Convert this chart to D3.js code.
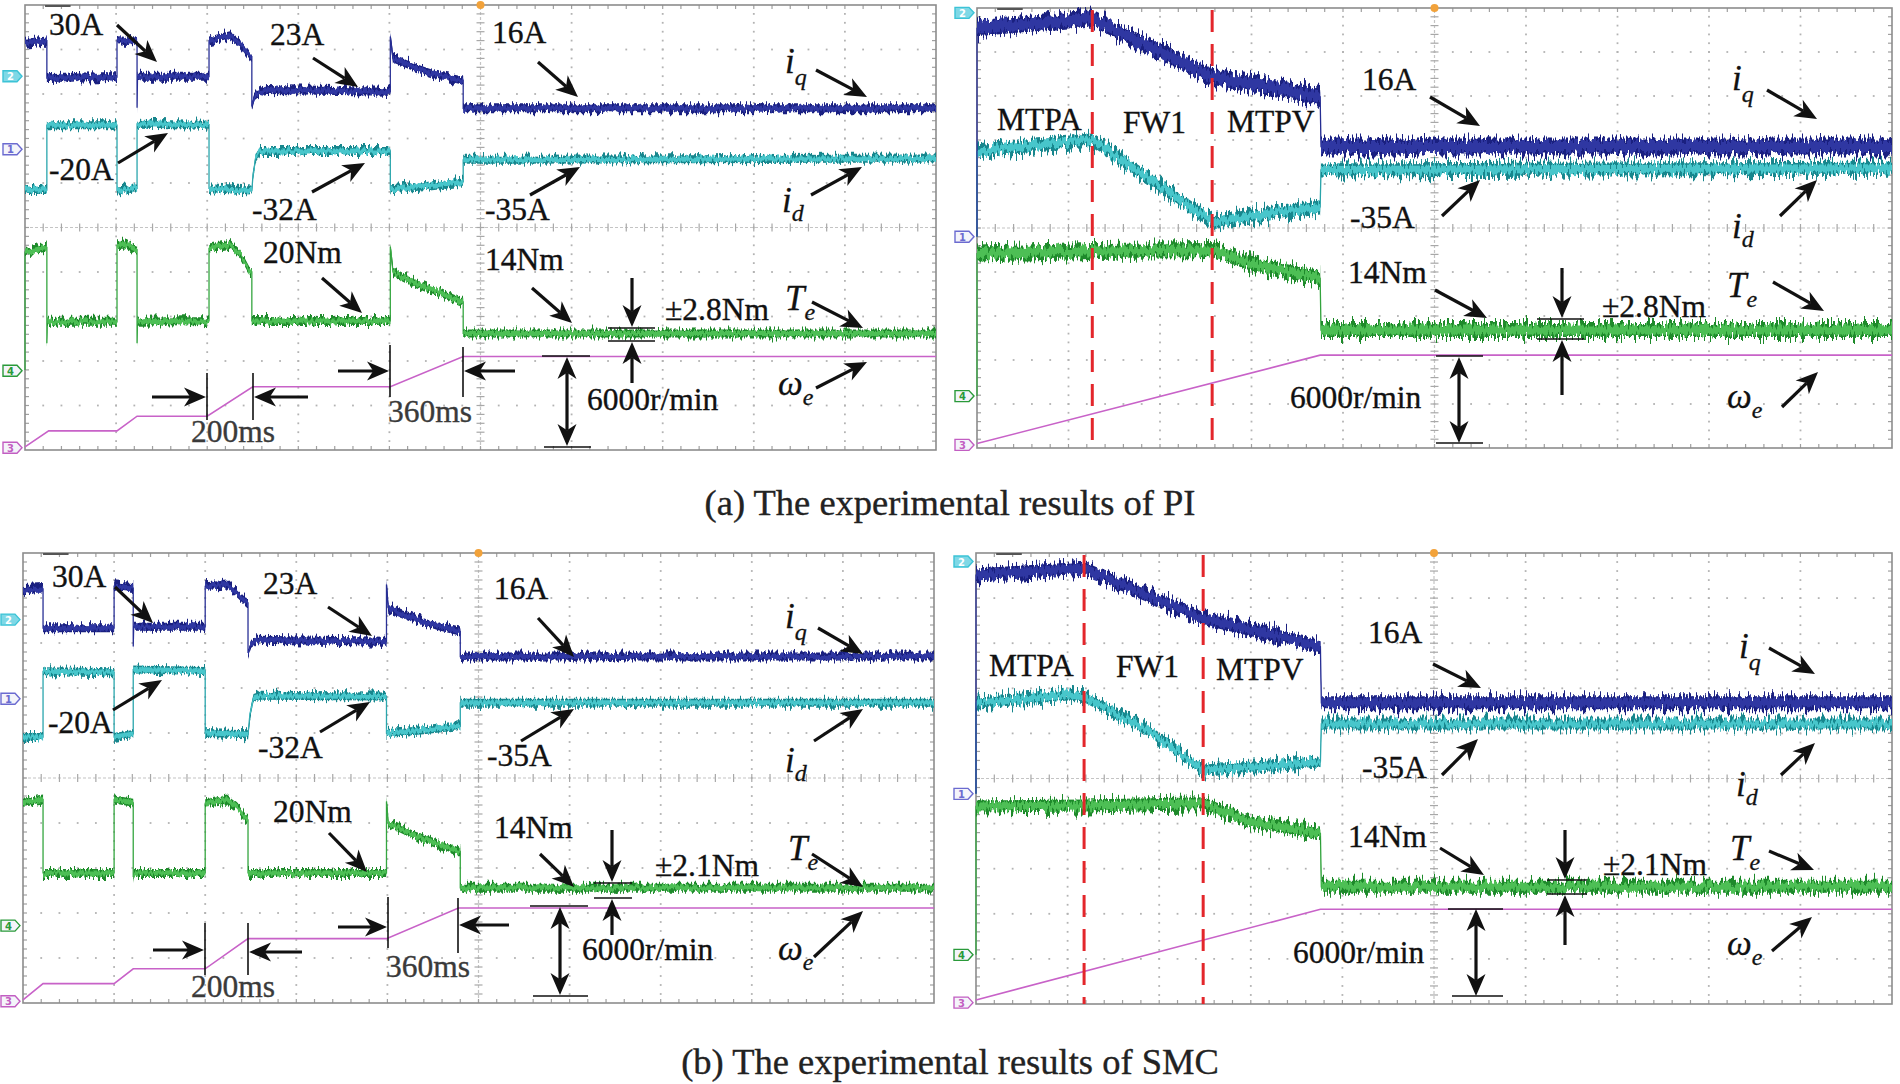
<!DOCTYPE html>
<html><head><meta charset="utf-8">
<script src="https://cdn.jsdelivr.net/npm/d3@7"></script>
<style>
html,body{margin:0;padding:0;background:#fff;}
svg{display:block;}
</style></head><body>
<svg id="chart" width="1900" height="1084"></svg>
<script>
// ---------- DATA (time and amplitude in oscilloscope divisions: t 0..10, value 0..10 from bottom) ----------
// (a) PI, speed steps
const piSpeedIq = [[0,9.15],[0.24,9.2],[0.24,8.36],[1.01,8.38],[1.01,9.21],[1.23,9.18],[1.23,7.69],[1.235,8.39],[2.02,8.39],[2.02,9.2],[2.25,9.32],[2.36,9.14],[2.47,8.84],[2.49,8.84],[2.49,7.72],[2.52,7.95],[2.58,8.05],[2.65,8.09],[4.01,8.05],[4.01,9.29],[4.04,8.8],[4.3,8.58],[4.48,8.45],[4.79,8.31],[4.81,8.31],[4.81,7.68],[10,7.68]];
const piSpeedId = [[0,5.84],[0.24,5.84],[0.24,7.30],[1.01,7.30],[1.01,5.83],[1.23,5.88],[1.23,7.33],[2.02,7.31],[2.02,5.88],[2.49,5.83],[2.5,6.1],[2.53,6.55],[2.58,6.72],[4.01,6.72],[4.01,5.86],[4.4,5.93],[4.79,6.03],[4.81,6.03],[4.81,6.52],[10,6.55]];
const piSpeedTe = [[0,1.8],[0,4.45],[0.24,4.55],[0.24,2.4],[0.245,2.88],[1.01,2.88],[1.01,4.6],[1.1,4.62],[1.23,4.5],[1.23,2.4],[1.235,2.88],[2.02,2.9],[2.02,4.53],[2.25,4.61],[2.36,4.42],[2.47,4.0],[2.49,4.0],[2.49,2.9],[4.01,2.9],[4.01,4.57],[4.04,4.0],[4.3,3.74],[4.48,3.6],[4.79,3.33],[4.81,3.33],[4.81,2.62],[10,2.62]];
const piSpeedWe = [[0,0.07],[0.26,0.43],[1.01,0.43],[1.23,0.76],[2.0,0.76],[2.5,1.42],[4.01,1.42],[4.81,2.10],[10,2.10]];
// (a) PI, field weakening
const piFluxIq = [[0,4.8],[0,9.54],[0.6,9.65],[1.26,9.76],[1.9,9.1],[2.57,8.44],[3.2,8.2],[3.75,7.98],[3.76,6.85],[10,6.85]];
const piFluxId = [[0,4.8],[0,6.73],[0.6,6.88],[1.26,7.0],[1.9,6.09],[2.57,5.14],[3.2,5.33],[3.75,5.48],[3.76,6.32],[10,6.36]];
const piFluxTe = [[0,1.18],[0,4.42],[1.26,4.48],[2.57,4.5],[2.98,4.2],[3.75,3.86],[3.76,2.68],[10,2.68]];
const piFluxWe = [[0,0.1],[3.75,2.11],[10,2.11]];
const piFluxModes = [1.26, 2.57];
// (b) SMC, speed steps
const smcSpeedIq = [[0,9.18],[0.22,9.2],[0.22,8.33],[1.0,8.33],[1.0,9.26],[1.21,9.22],[1.21,7.92],[1.215,8.36],[2.0,8.36],[2.0,9.26],[2.24,9.3],[2.35,9.1],[2.46,8.89],[2.47,8.89],[2.47,7.78],[2.5,7.95],[2.57,8.07],[3.99,8.03],[3.99,9.3],[4.01,8.78],[4.3,8.55],[4.55,8.38],[4.78,8.26],[4.80,8.26],[4.80,7.70],[10,7.70]];
const smcSpeedId = [[0,5.91],[0.22,5.91],[0.22,7.37],[1.0,7.35],[1.0,5.91],[1.21,5.98],[1.21,7.41],[2.0,7.38],[2.0,6.0],[2.47,5.97],[2.49,6.4],[2.53,6.78],[2.6,6.83],[3.99,6.81],[3.99,6.0],[4.4,6.06],[4.78,6.15],[4.80,6.15],[4.80,6.67],[10,6.67]];
const smcSpeedTe = [[0,4.45],[0.22,4.52],[0.22,2.89],[1.0,2.89],[1.0,4.52],[1.21,4.45],[1.21,2.8],[1.215,2.89],[2.0,2.89],[2.0,4.44],[2.24,4.52],[2.35,4.35],[2.46,4.07],[2.47,4.07],[2.47,2.89],[3.99,2.89],[3.99,4.48],[4.01,4.0],[4.3,3.72],[4.55,3.55],[4.78,3.37],[4.80,3.37],[4.80,2.56],[10,2.56]];
const smcSpeedWe = [[0,0.07],[0.22,0.43],[1.0,0.43],[1.21,0.76],[2.0,0.76],[2.47,1.43],[3.99,1.43],[4.78,2.11],[10,2.11]];
// (b) SMC, field weakening
const smcFluxIq = [[0,4.66],[0,9.51],[0.6,9.59],[1.18,9.66],[1.9,9.03],[2.48,8.55],[3.17,8.22],[3.76,7.92],[3.77,6.68],[10,6.68]];
const smcFluxId = [[0,4.66],[0,6.67],[0.6,6.78],[1.0,6.85],[1.18,6.81],[1.9,6.04],[2.48,5.19],[3.17,5.27],[3.76,5.37],[3.77,6.21],[10,6.21]];
const smcFluxTe = [[0,1.09],[0,4.38],[1.18,4.4],[2.48,4.45],[3.0,4.04],[3.76,3.78],[3.77,2.60],[10,2.60]];
const smcFluxWe = [[0,0.09],[3.76,2.10],[10,2.10]];
const smcFluxModes = [1.18, 2.48];
// channel marker levels (divisions) for ch 2,1,4,3
const markerCh = ["2","1","4","3"];
const piSpeedMarkers = [8.4, 6.76, 1.78, 0.05];
const piFluxMarkers = [9.89, 4.8, 1.18, 0.07];
const smcSpeedMarkers = [8.52, 6.76, 1.72, 0.04];
const smcFluxMarkers = [9.81, 4.66, 1.09, 0.03];
const modeNames = ["MTPA", "FW1", "MTPV"];
const captionTexts = ["(a) The experimental results of PI", "(b) The experimental results of SMC"];

// ---------- LAYOUT ----------
const W = 1900, H = 1084;
const SERIF = '"Liberation Serif", "Times New Roman", serif';
const svg = d3.select('#chart');
const defs = svg.append('defs');

function makeJitter(id, seed, scale, fx, fy) {
  const f = defs.append('filter').attr('id', id).attr('filterUnits', 'userSpaceOnUse')
    .attr('x', 0).attr('y', 0).attr('width', W).attr('height', H)
    .attr('color-interpolation-filters', 'sRGB');
  f.append('feTurbulence').attr('type', 'fractalNoise').attr('baseFrequency', fx + ' ' + fy)
    .attr('numOctaves', 2).attr('seed', seed).attr('result', 'n');
  f.append('feColorMatrix').attr('in', 'n').attr('type', 'matrix')
    .attr('values', '0 0 0 0 0.5  0 1 0 0 0  0 0 0 0 0  0 0 0 0 1').attr('result', 'm');
  f.append('feDisplacementMap').attr('in', 'SourceGraphic').attr('in2', 'm').attr('scale', scale)
    .attr('xChannelSelector', 'R').attr('yChannelSelector', 'G');
}
makeJitter('jdS', 3, 14, 0.5, 0.03);
makeJitter('jlS', 11, 9, 0.5, 0.03);
makeJitter('jdL', 5, 24, 0.5, 0.03);
makeJitter('jlL', 17, 15, 0.5, 0.03);

const colors = {
  iq: {dark: '#1a2080', light: '#2f37a2', edge: '#2a3196'},
  id: {dark: '#17868d', light: '#48c6cb', edge: '#2aa6ad'},
  te: {dark: '#1e8a2b', light: '#4dbf55', edge: '#35a640'},
  we: '#c862c8'
};

const panels = [
  {x: 25, y: 5, w: 911, h: 445, iq: piSpeedIq, id: piSpeedId, te: piSpeedTe, we: piSpeedWe, markers: piSpeedMarkers,
   bands: {iq: [8, 5], id: [8, 5], te: [8, 5]}, big: false, modes: null},
  {x: 977, y: 8, w: 915, h: 440, iq: piFluxIq, id: piFluxId, te: piFluxTe, we: piFluxWe, markers: piFluxMarkers,
   bands: {iq: [16, 11], id: [13, 8], te: [14, 9]}, big: true, modes: piFluxModes},
  {x: 23, y: 553, w: 911, h: 450, iq: smcSpeedIq, id: smcSpeedId, te: smcSpeedTe, we: smcSpeedWe, markers: smcSpeedMarkers,
   bands: {iq: [8, 5], id: [8, 5], te: [8, 5]}, big: false, modes: null},
  {x: 976, y: 553, w: 916, h: 451, iq: smcFluxIq, id: smcFluxId, te: smcFluxTe, we: smcFluxWe, markers: smcFluxMarkers,
   bands: {iq: [13, 9], id: [11, 7], te: [12, 8]}, big: true, modes: smcFluxModes}
];

const markerColors = {"2": '#3cc3d6', "1": '#6b6bd0', "4": '#2a9a3a', "3": '#c25ec2'};

function drawPanel(p) {
  const g = svg.append('g');
  const xs = d3.scaleLinear().domain([0, 10]).range([p.x, p.x + p.w]);
  const ys = d3.scaleLinear().domain([0, 10]).range([p.y + p.h, p.y]);
  const minor = d3.range(1, 50).map(k => k / 5);
  const majors = [1, 2, 3, 4, 6, 7, 8, 9];
  const grid = g.append('g');
  majors.forEach(i => {
    grid.selectAll(null).data(minor).enter().append('rect')
      .attr('x', xs(i) - 0.9).attr('y', d => ys(d) - 0.9).attr('width', 1.8).attr('height', 1.8).attr('fill', '#b3b3b3');
    grid.selectAll(null).data(minor).enter().append('rect')
      .attr('x', d => xs(d) - 0.9).attr('y', ys(i) - 0.9).attr('width', 1.8).attr('height', 1.8).attr('fill', '#b3b3b3');
  });
  grid.append('line').attr('x1', xs(5)).attr('x2', xs(5)).attr('y1', ys(0)).attr('y2', ys(10))
    .attr('stroke', '#c4c4c4').attr('stroke-width', 1.2).attr('stroke-dasharray', '3,2');
  grid.append('line').attr('x1', xs(0)).attr('x2', xs(10)).attr('y1', ys(5)).attr('y2', ys(5))
    .attr('stroke', '#c4c4c4').attr('stroke-width', 1.2).attr('stroke-dasharray', '3,2');
  grid.selectAll(null).data(minor).enter().append('line')
    .attr('x1', xs(5) - 4).attr('x2', xs(5) + 4).attr('y1', d => ys(d)).attr('y2', d => ys(d))
    .attr('stroke', '#a8a8a8').attr('stroke-width', 1.2);
  grid.selectAll(null).data(minor).enter().append('line')
    .attr('y1', ys(5) - 4).attr('y2', ys(5) + 4).attr('x1', d => xs(d)).attr('x2', d => xs(d))
    .attr('stroke', '#a8a8a8').attr('stroke-width', 1.2);
  grid.selectAll(null).data(minor).enter().append('line')
    .attr('x1', d => xs(d)).attr('x2', d => xs(d)).attr('y1', ys(0)).attr('y2', ys(0) - 4)
    .attr('stroke', '#a0a0a0').attr('stroke-width', 1.2);
  grid.selectAll(null).data(minor).enter().append('line')
    .attr('x1', d => xs(d)).attr('x2', d => xs(d)).attr('y1', ys(10)).attr('y2', ys(10) + 4)
    .attr('stroke', '#a0a0a0').attr('stroke-width', 1.2);
  grid.selectAll(null).data(minor).enter().append('line')
    .attr('x1', xs(0)).attr('x2', xs(0) + 4).attr('y1', d => ys(d)).attr('y2', d => ys(d))
    .attr('stroke', '#a0a0a0').attr('stroke-width', 1.2);
  grid.selectAll(null).data(minor).enter().append('line')
    .attr('x1', xs(10)).attr('x2', xs(10) - 4).attr('y1', d => ys(d)).attr('y2', d => ys(d))
    .attr('stroke', '#a0a0a0').attr('stroke-width', 1.2);
  grid.append('rect').attr('x', xs(0)).attr('y', ys(10)).attr('width', xs(10) - xs(0)).attr('height', ys(0) - ys(10))
    .attr('fill', 'none').attr('stroke', '#8c8c8c').attr('stroke-width', 1.6);
  grid.append('line').attr('x1', xs(0.22)).attr('x2', xs(0.5)).attr('y1', ys(10) + 1).attr('y2', ys(10) + 1)
    .attr('stroke', '#555').attr('stroke-width', 2);
  grid.append('circle').attr('cx', xs(5)).attr('cy', ys(10)).attr('r', 4).attr('fill', '#f2a23a');

  const line = d3.line().x(d => xs(d[0])).y(d => ys(d[1]));
  const band = w => d3.area().x(d => xs(d[0])).y0(d => ys(d[1]) - w / 2).y1(d => ys(d[1]) + w / 2);
  const tr = g.append('g');
  tr.append('path').attr('d', line(p.we)).attr('fill', 'none').attr('stroke', colors.we).attr('stroke-width', 1.6);
  ['te', 'id', 'iq'].forEach(k => {
    const c = colors[k];
    const [bw, lw] = p.bands[k];
    tr.append('path').attr('d', line(p[k])).attr('fill', 'none').attr('stroke', c.edge).attr('stroke-width', 1.3);
    tr.append('path').attr('d', band(bw)(p[k])).attr('fill', c.dark).attr('filter', p.big ? 'url(#jdL)' : 'url(#jdS)');
    tr.append('path').attr('d', band(lw)(p[k])).attr('fill', c.light).attr('filter', p.big ? 'url(#jlL)' : 'url(#jlS)');
  });
  if (p.modes) {
    tr.selectAll(null).data(p.modes).enter().append('line')
      .attr('x1', d => xs(d)).attr('x2', d => xs(d)).attr('y1', ys(10) + 2).attr('y2', ys(0))
      .attr('stroke', '#e3262b').attr('stroke-width', 3).attr('stroke-dasharray', '22,12');
  }
  const mk = g.append('g');
  p.markers.forEach((v, i) => {
    const ch = markerCh[i];
    const cy = ys(v), x1 = xs(0) - 3;
    const col = markerColors[ch];
    mk.append('path').attr('d', `M${x1},${cy} L${x1 - 5},${cy - 5.5} L${x1 - 19},${cy - 5.5} L${x1 - 19},${cy + 5.5} L${x1 - 5},${cy + 5.5} Z`)
      .attr('fill', ch === '2' ? '#7fd8e6' : '#f4f4fa').attr('stroke', col).attr('stroke-width', 1.4);
    mk.append('text').attr('x', x1 - 11.5).attr('y', cy + 4).attr('text-anchor', 'middle')
      .attr('font-size', 10).attr('font-family', 'DejaVu Sans').attr('font-weight', 'bold')
      .attr('fill', ch === '2' ? '#ffffff' : col).text(ch);
  });
}
panels.forEach(drawPanel);

// ---------- ANNOTATIONS ----------
const ann = svg.append('g');
function arrowPath(x1, y1, x2, y2, len, half) {
  const a = Math.atan2(y2 - y1, x2 - x1), c = Math.cos(a), s = Math.sin(a);
  const bx = x2 - len * c, by = y2 - len * s, nx = -s, ny = c;
  const qx = x2 - len * 0.72 * c, qy = y2 - len * 0.72 * s;
  return {head: `M${x2},${y2} L${bx + half * nx},${by + half * ny} L${qx},${qy} L${bx - half * nx},${by - half * ny} Z`, qx, qy};
}
function arrow(x1, y1, x2, y2, opt = {}) {
  const len = opt.len || 22, half = opt.half || 9.5;
  const h = arrowPath(x1, y1, x2, y2, len, half);
  let sx = x1, sy = y1;
  if (opt.both) {
    const h2 = arrowPath(x2, y2, x1, y1, len, half);
    ann.append('path').attr('d', h2.head).attr('fill', '#111');
    sx = h2.qx; sy = h2.qy;
  }
  ann.append('line').attr('x1', sx).attr('y1', sy).attr('x2', h.qx).attr('y2', h.qy)
    .attr('stroke', '#111').attr('stroke-width', 3.2);
  ann.append('path').attr('d', h.head).attr('fill', '#111');
}
function seg(x1, y1, x2, y2, w = 1.6) {
  ann.append('line').attr('x1', x1).attr('y1', y1).attr('x2', x2).attr('y2', y2).attr('stroke', '#111').attr('stroke-width', w);
}
function label(t, x, y, opt = {}) {
  ann.append('text').attr('x', x).attr('y', y).attr('font-family', SERIF).attr('font-size', opt.size || 31.5)
    .attr('fill', opt.fill || '#111').attr('stroke', opt.fill || '#111').attr('stroke-width', 0.35)
    .attr('text-anchor', opt.anchor || 'start').text(t);
}
function sym(main, sub, x, y, dy) {
  const t = ann.append('text').attr('x', x).attr('y', y).attr('font-family', SERIF).attr('font-size', 35)
    .attr('font-style', 'italic').attr('fill', '#111').attr('stroke', '#111').attr('stroke-width', 0.3);
  t.append('tspan').text(main);
  t.append('tspan').attr('dy', dy).attr('font-size', 24).text(sub);
}

// panel (a) left
label('30A', 49, 35); label('23A', 270, 45); label('16A', 492, 43);
label('-20A', 49, 180); label('-32A', 252, 220); label('-35A', 485, 220);
label('20Nm', 263, 263); label('14Nm', 485, 270); label('\u00b12.8Nm', 665, 320);
label('6000r/min', 587, 410); label('200ms', 191, 442, {fill: '#3a3a3a'}); label('360ms', 388, 422, {fill: '#3a3a3a'});
sym('i', 'q', 785, 73, 12); sym('i', 'd', 782, 212, 9); sym('T', 'e', 785, 310, 10); sym('\u03c9', 'e', 778, 395, 10);
arrow(117, 25, 157, 62); arrow(313, 58, 358, 87); arrow(538, 62, 578, 97); arrow(816, 70, 867, 97);
arrow(118, 163, 168, 133); arrow(312, 192, 365, 163); arrow(530, 195, 580, 167); arrow(811, 195, 862, 167);
arrow(322, 278, 362, 313); arrow(532, 288, 572, 323); arrow(812, 302, 863, 328); arrow(816, 388, 867, 362);
arrow(632, 278, 632, 327); arrow(632, 383, 632, 342); arrow(567, 357, 567, 446, {both: true});
seg(608, 328, 655, 328); seg(608, 341, 655, 341); seg(542, 356, 590, 356); seg(544, 447, 591, 447);
arrow(152, 397, 206, 397); arrow(308, 397, 254, 397); arrow(338, 371, 389, 371); arrow(515, 371, 464, 371);
seg(207, 373, 207, 420); seg(253, 373, 253, 420); seg(390, 345, 390, 397); seg(463, 347, 463, 397);

// panel (a) right
label(modeNames[0], 997, 130); label(modeNames[1], 1123, 133); label(modeNames[2], 1227, 132);
label('16A', 1362, 90); label('-35A', 1350, 228); label('14Nm', 1348, 283); label('\u00b12.8Nm', 1602, 317);
label('6000r/min', 1290, 408);
sym('i', 'q', 1732, 90, 12); sym('i', 'd', 1732, 238, 9); sym('T', 'e', 1727, 297, 10); sym('\u03c9', 'e', 1727, 408, 10);
arrow(1430, 97, 1480, 126); arrow(1767, 90, 1817, 119); arrow(1442, 216, 1480, 180); arrow(1780, 216, 1817, 180);
arrow(1435, 290, 1487, 318); arrow(1773, 282, 1824, 311); arrow(1782, 407, 1818, 372);
arrow(1562, 268, 1562, 318); arrow(1562, 395, 1562, 340); arrow(1459, 357, 1459, 443, {both: true});
seg(1537, 319, 1584, 319); seg(1537, 339, 1584, 339); seg(1436, 356, 1483, 356); seg(1436, 443, 1483, 443);

// panel (b) left
label('30A', 52, 587); label('23A', 263, 594); label('16A', 494, 599);
label('-20A', 48, 733); label('-32A', 258, 758); label('-35A', 487, 766);
label('20Nm', 273, 822); label('14Nm', 494, 838); label('\u00b12.1Nm', 655, 876);
label('6000r/min', 582, 960); label('200ms', 191, 997, {fill: '#3a3a3a'}); label('360ms', 386, 977, {fill: '#3a3a3a'});
sym('i', 'q', 785, 628, 12); sym('i', 'd', 785, 772, 9); sym('T', 'e', 788, 860, 10); sym('\u03c9', 'e', 778, 960, 10);
arrow(115, 587, 153, 623); arrow(328, 607, 372, 636); arrow(538, 618, 574, 657); arrow(818, 628, 863, 654);
arrow(113, 710, 162, 680); arrow(320, 732, 370, 702); arrow(521, 741, 574, 709); arrow(814, 741, 863, 709);
arrow(329, 833, 367, 872); arrow(540, 854, 574, 887); arrow(812, 854, 863, 887); arrow(814, 957, 863, 911);
arrow(612, 830, 612, 882); arrow(612, 935, 612, 899); arrow(560, 907, 560, 995, {both: true});
seg(594, 883, 632, 883); seg(594, 898, 632, 898); seg(530, 906, 588, 906); seg(533, 996, 588, 996);
arrow(153, 950, 204, 950); arrow(302, 952, 249, 952); arrow(338, 927, 387, 927); arrow(509, 925, 459, 925);
seg(205, 923, 205, 975); seg(248, 923, 248, 975); seg(388, 897, 388, 948); seg(458, 898, 458, 953);

// panel (b) right
label(modeNames[0], 989, 676); label(modeNames[1], 1116, 677); label(modeNames[2], 1216, 680);
label('16A', 1368, 643); label('-35A', 1362, 778); label('14Nm', 1348, 847); label('\u00b12.1Nm', 1603, 875);
label('6000r/min', 1293, 963);
sym('i', 'q', 1739, 658, 12); sym('i', 'd', 1736, 796, 9); sym('T', 'e', 1730, 860, 10); sym('\u03c9', 'e', 1727, 955, 10);
arrow(1433, 664, 1481, 688); arrow(1769, 648, 1815, 674); arrow(1442, 775, 1478, 739); arrow(1781, 775, 1815, 743);
arrow(1440, 848, 1484, 875); arrow(1769, 851, 1814, 870); arrow(1772, 951, 1812, 917);
arrow(1565, 830, 1565, 879); arrow(1565, 945, 1565, 895); arrow(1476, 909, 1476, 996, {both: true});
seg(1547, 880, 1587, 880); seg(1547, 894, 1587, 894); seg(1448, 909, 1503, 909); seg(1452, 996, 1503, 996);

// captions
label(captionTexts[0], 950, 515, {size: 36.5, anchor: 'middle', fill: '#222'});
label(captionTexts[1], 950, 1074, {size: 36.5, anchor: 'middle', fill: '#222'});
</script>
</body></html>
